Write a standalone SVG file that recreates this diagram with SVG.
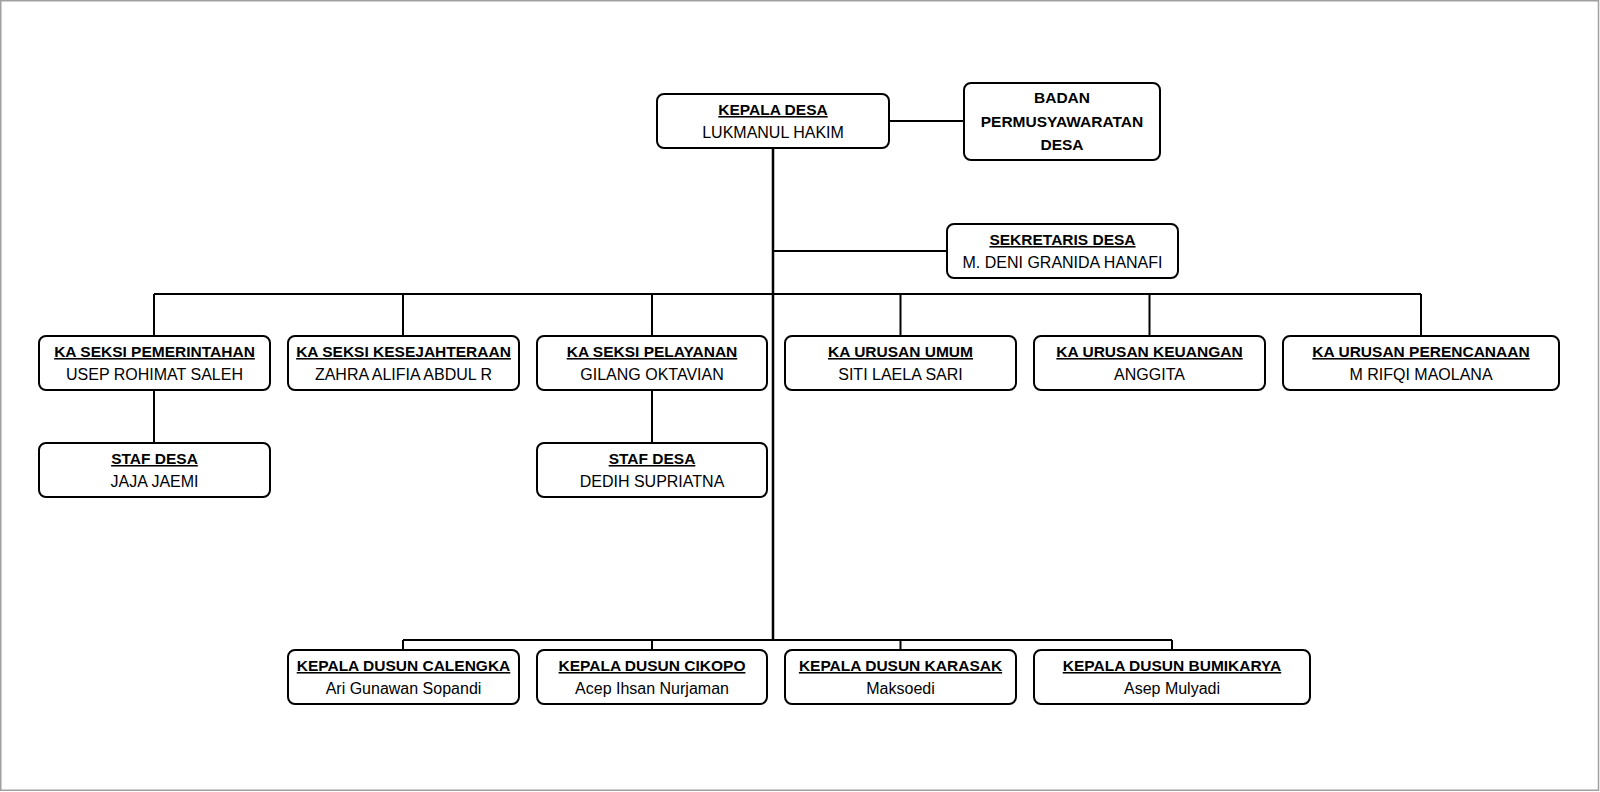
<svg xmlns="http://www.w3.org/2000/svg" width="1600" height="792" viewBox="0 0 1600 792">
  <style>
    .box { fill: #ffffff; stroke: #000000; stroke-width: 2; }
    .link { stroke: #000000; stroke-width: 2; fill: none; }
    .trunk { stroke: #000000; stroke-width: 2.5; fill: none; }
    text { font-family: "Liberation Sans", Arial, sans-serif; font-size: 16px; fill: #000000; text-anchor: middle; }
    .title { font-weight: bold; font-size: 15.5px; text-decoration: underline; }
    .bold { font-weight: bold; font-size: 15.5px; }
  </style>

  <!-- outer frame -->
  <rect x="0.75" y="0.75" width="1597.75" height="789.5" fill="#ffffff" stroke="#a0a0a0" stroke-width="1.5"/>

  <!-- connectors -->
  <g id="connectors">
    <line class="link" x1="889" y1="121" x2="964" y2="121"/>
    <line class="trunk" x1="773" y1="148" x2="773" y2="640"/>
    <line class="link" x1="773" y1="251" x2="947" y2="251"/>
    <line class="link" x1="154" y1="294" x2="1421" y2="294"/>
    <line class="link" x1="154" y1="294" x2="154" y2="336"/>
    <line class="link" x1="403" y1="294" x2="403" y2="336"/>
    <line class="link" x1="652" y1="294" x2="652" y2="336"/>
    <line class="link" x1="900.5" y1="294" x2="900.5" y2="336"/>
    <line class="link" x1="1149.5" y1="294" x2="1149.5" y2="336"/>
    <line class="link" x1="1421" y1="294" x2="1421" y2="336"/>
    <line class="link" x1="154" y1="390" x2="154" y2="443"/>
    <line class="link" x1="652" y1="390" x2="652" y2="443"/>
    <line class="link" x1="403" y1="640" x2="1172" y2="640"/>
    <line class="link" x1="403" y1="640" x2="403" y2="650"/>
    <line class="link" x1="652" y1="640" x2="652" y2="650"/>
    <line class="link" x1="900.5" y1="640" x2="900.5" y2="650"/>
    <line class="link" x1="1172" y1="640" x2="1172" y2="650"/>
  </g>

  <!-- top level -->
  <g id="kepala-desa">
    <rect class="box" x="657" y="94" width="232" height="54" rx="7"/>
    <text class="title" x="773" y="115">KEPALA DESA</text>
    <text x="773" y="138">LUKMANUL HAKIM</text>
  </g>
  <g id="bpd">
    <rect class="box" x="964" y="83" width="196" height="77" rx="7"/>
    <text class="bold" x="1062" y="103">BADAN</text>
    <text class="bold" x="1062" y="127">PERMUSYAWARATAN</text>
    <text class="bold" x="1062" y="150">DESA</text>
  </g>
  <g id="sekretaris-desa">
    <rect class="box" x="947" y="224" width="231" height="54" rx="7"/>
    <text class="title" x="1062.5" y="245">SEKRETARIS DESA</text>
    <text x="1062.5" y="268">M. DENI GRANIDA HANAFI</text>
  </g>

  <!-- sections and affairs -->
  <g id="ka-seksi-pemerintahan">
    <rect class="box" x="39" y="336" width="231" height="54" rx="7"/>
    <text class="title" x="154.5" y="357">KA SEKSI PEMERINTAHAN</text>
    <text x="154.5" y="380">USEP ROHIMAT SALEH</text>
  </g>
  <g id="ka-seksi-kesejahteraan">
    <rect class="box" x="288" y="336" width="231" height="54" rx="7"/>
    <text class="title" x="403.5" y="357">KA SEKSI KESEJAHTERAAN</text>
    <text x="403.5" y="380">ZAHRA ALIFIA ABDUL R</text>
  </g>
  <g id="ka-seksi-pelayanan">
    <rect class="box" x="537" y="336" width="230" height="54" rx="7"/>
    <text class="title" x="652" y="357">KA SEKSI PELAYANAN</text>
    <text x="652" y="380">GILANG OKTAVIAN</text>
  </g>
  <g id="ka-urusan-umum">
    <rect class="box" x="785" y="336" width="231" height="54" rx="7"/>
    <text class="title" x="900.5" y="357">KA URUSAN UMUM</text>
    <text x="900.5" y="380">SITI LAELA SARI</text>
  </g>
  <g id="ka-urusan-keuangan">
    <rect class="box" x="1034" y="336" width="231" height="54" rx="7"/>
    <text class="title" x="1149.5" y="357">KA URUSAN KEUANGAN</text>
    <text x="1149.5" y="380">ANGGITA</text>
  </g>
  <g id="ka-urusan-perencanaan">
    <rect class="box" x="1283" y="336" width="276" height="54" rx="7"/>
    <text class="title" x="1421" y="357">KA URUSAN PERENCANAAN</text>
    <text x="1421" y="380">M RIFQI MAOLANA</text>
  </g>

  <!-- staff -->
  <g id="staf-desa-1">
    <rect class="box" x="39" y="443" width="231" height="54" rx="7"/>
    <text class="title" x="154.5" y="464">STAF DESA</text>
    <text x="154.5" y="487">JAJA JAEMI</text>
  </g>
  <g id="staf-desa-2">
    <rect class="box" x="537" y="443" width="230" height="54" rx="7"/>
    <text class="title" x="652" y="464">STAF DESA</text>
    <text x="652" y="487">DEDIH SUPRIATNA</text>
  </g>

  <!-- hamlet heads -->
  <g id="kadus-calengka">
    <rect class="box" x="288" y="650" width="231" height="54" rx="7"/>
    <text class="title" x="403.5" y="671">KEPALA DUSUN CALENGKA</text>
    <text x="403.5" y="694">Ari Gunawan Sopandi</text>
  </g>
  <g id="kadus-cikopo">
    <rect class="box" x="537" y="650" width="230" height="54" rx="7"/>
    <text class="title" x="652" y="671">KEPALA DUSUN CIKOPO</text>
    <text x="652" y="694">Acep Ihsan Nurjaman</text>
  </g>
  <g id="kadus-karasak">
    <rect class="box" x="785" y="650" width="231" height="54" rx="7"/>
    <text class="title" x="900.5" y="671">KEPALA DUSUN KARASAK</text>
    <text x="900.5" y="694">Maksoedi</text>
  </g>
  <g id="kadus-bumikarya">
    <rect class="box" x="1034" y="650" width="276" height="54" rx="7"/>
    <text class="title" x="1172" y="671">KEPALA DUSUN BUMIKARYA</text>
    <text x="1172" y="694">Asep Mulyadi</text>
  </g>
</svg>
